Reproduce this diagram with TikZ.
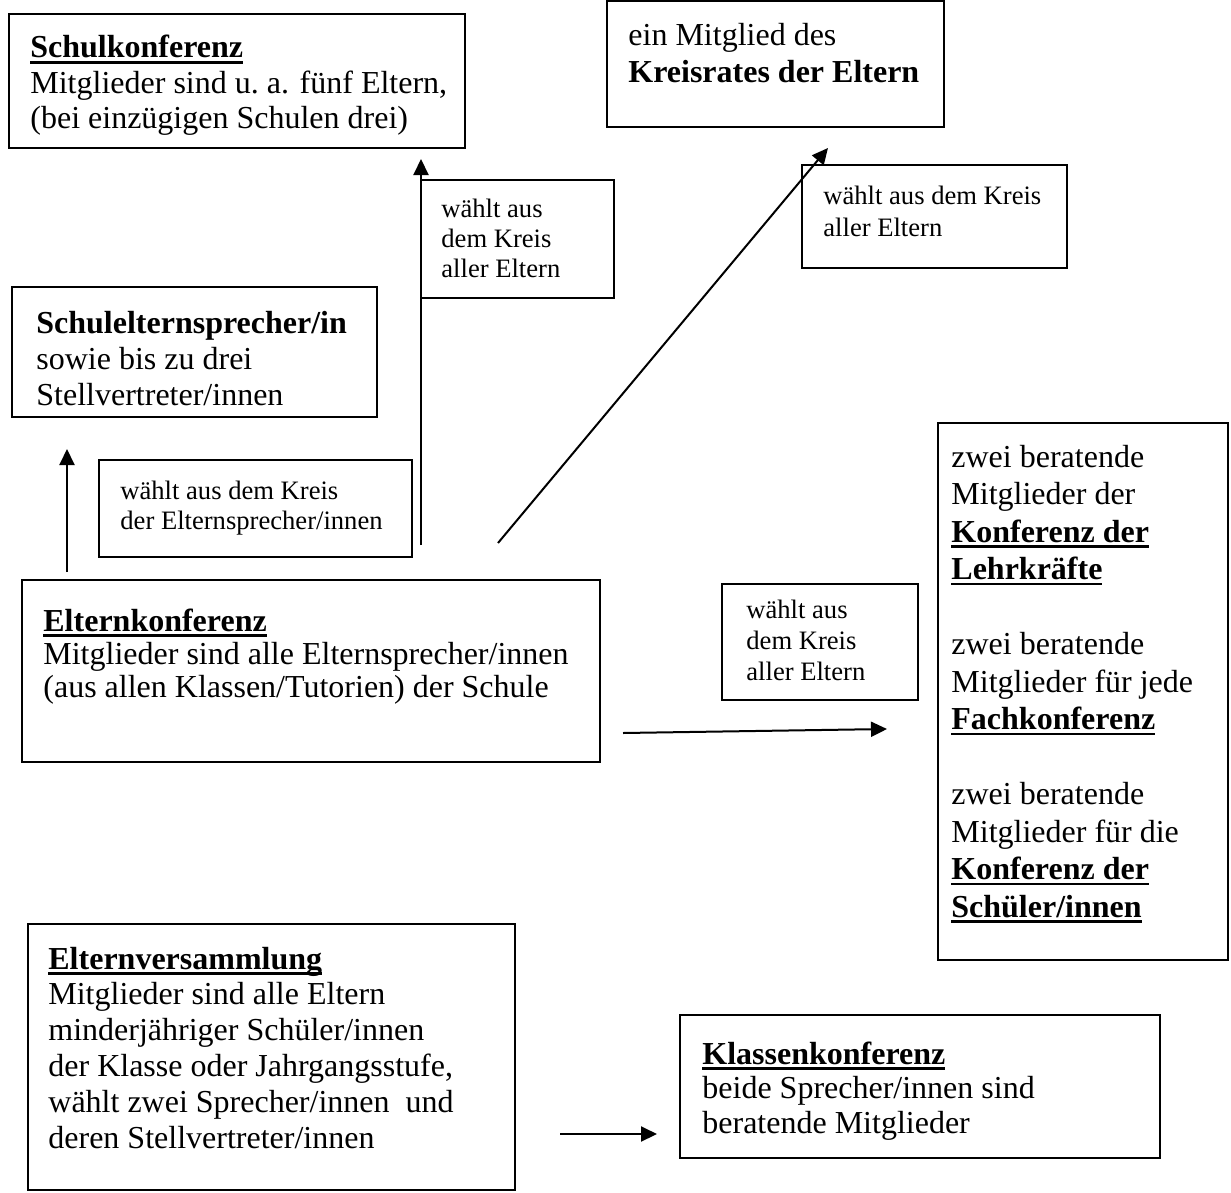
\documentclass[tikz,border=0pt]{standalone}
\usepackage{fontspec}
\setmainfont{Liberation Serif}
\usetikzlibrary{arrows.meta,fit}
\newcommand\ulb[1]{\leavevmode\setbox0\hbox{#1}\rlap{\rule[-2.8pt]{\wd0}{1.3pt}}\box0}
\newcommand\mainsz{\fontsize{16}{18}\selectfont}
\newcommand\smallsz{\fontsize{13.3}{15}\selectfont}
\begin{document}
\begin{tikzpicture}[x=0.5pt,y=-0.5pt,
  box/.style={draw, line width=1pt, inner sep=0pt},
  txt/.style={inner sep=0pt, anchor=base west},
  arr/.style={line width=1pt, -{Triangle[length=8pt,width=7.5pt]}}]
\useasboundingbox (0,0) rectangle (1231,1193);

% boxes
\node[box, fit={(9,14) (465,148)}] (A) {};
\node[box, fit={(607,1) (944,127)}] (B) {};
\node[box, fit={(421,180) (614,298)}] (C) {};
\node[box, fit={(802,165) (1067,268)}] (D) {};
\node[box, fit={(12,287) (377,417)}] (E) {};
\node[box, fit={(99,460) (412,557)}] (F) {};
\node[box, fit={(22,580) (600,762)}] (G) {};
\node[box, fit={(722,584) (918,700)}] (H) {};
\node[box, fit={(938,423) (1228,960)}] (I) {};
\node[box, fit={(28,924) (515,1190)}] (J) {};
\node[box, fit={(680,1015) (1160,1158)}] (K) {};

% texts
\node[txt] (At) at (30,58) {\parbox[t]{300pt}{\mainsz\baselineskip=17.75pt
  \ulb{\textbf{Schulkonferenz}}\\
  Mitglieder sind u.\ a. fünf Eltern,\\
  (bei einzügigen Schulen drei)}};
\node[txt] (Bt) at (628,46) {\parbox[t]{300pt}{\mainsz\baselineskip=18.5pt
  ein Mitglied des\\
  \textbf{Kreisrates der Eltern}}};
\node[txt] (Ct) at (441,217) {\parbox[t]{200pt}{\smallsz\baselineskip=15pt
  wählt aus\\
  dem Kreis\\
  aller Eltern}};
\node[txt] (Dt) at (823,204) {\parbox[t]{200pt}{\smallsz\baselineskip=16.5pt
  wählt aus dem Kreis\\
  aller Eltern}};
\node[txt] (Et) at (36,333) {\parbox[t]{300pt}{\mainsz\baselineskip=18pt
  \textbf{Schulelternsprecher/in}\\
  sowie bis zu drei\\
  Stellvertreter/innen}};
\node[txt] (Ft) at (120,499) {\parbox[t]{200pt}{\smallsz\baselineskip=15pt
  wählt aus dem Kreis\\
  der Elternsprecher/innen}};
\node[txt] (Gt) at (43,631) {\parbox[t]{400pt}{\mainsz\baselineskip=16.5pt
  \ulb{\textbf{Elternkonferenz}}\\
  Mitglieder sind alle Elternsprecher/innen\\
  (aus allen Klassen/Tutorien) der Schule}};
\node[txt] (Ht) at (746,618) {\parbox[t]{200pt}{\smallsz\baselineskip=15.5pt
  wählt aus\\
  dem Kreis\\
  aller Eltern}};
\node[txt] (It) at (951,467) {\parbox[t]{200pt}{\mainsz\baselineskip=18.75pt
  zwei beratende\\
  Mitglieder der\\
  \ulb{\textbf{Konferenz der}}\\
  \ulb{\textbf{Lehrkräfte}}\\[18.75pt]
  zwei beratende\\
  Mitglieder für jede\\
  \ulb{\textbf{Fachkonferenz}}\\[18.75pt]
  zwei beratende\\
  Mitglieder für die\\
  \ulb{\textbf{Konferenz der}}\\
  \ulb{\textbf{Schüler/innen}}}};
\node[txt] (Jt) at (48,969) {\parbox[t]{300pt}{\mainsz\baselineskip=17.9pt
  \ulb{\textbf{Elternversammlung}}\\
  Mitglieder sind alle Eltern\\
  minderjähriger Schüler/innen\\
  der Klasse oder Jahrgangsstufe,\\
  wählt zwei Sprecher/innen\ \ und\\
  deren Stellvertreter/innen}};
\node[txt] (Kt) at (702,1064) {\parbox[t]{300pt}{\mainsz\baselineskip=17.25pt
  \ulb{\textbf{Klassenkonferenz}}\\
  beide Sprecher/innen sind\\
  beratende Mitglieder}};

% connectors
\coordinate (a1s) at (67,572);  \coordinate (a1e) at (67,449);
\coordinate (a2s) at (421,545); \coordinate (a2e) at (421,159);
\coordinate (a3s) at (498,543); \coordinate (a3e) at (828,148);
\coordinate (a4s) at (623,733); \coordinate (a4e) at (887,729);
\coordinate (a5s) at (560,1134); \coordinate (a5e) at (657,1134);
\draw[arr] (a1s) -- (a1e);
\draw[arr] (a2s) -- (a2e);
\draw[arr] (a3s) -- (a3e);
\draw[arr] (a4s) -- (a4e);
\draw[arr] (a5s) -- (a5e);
\end{tikzpicture}
\end{document}
